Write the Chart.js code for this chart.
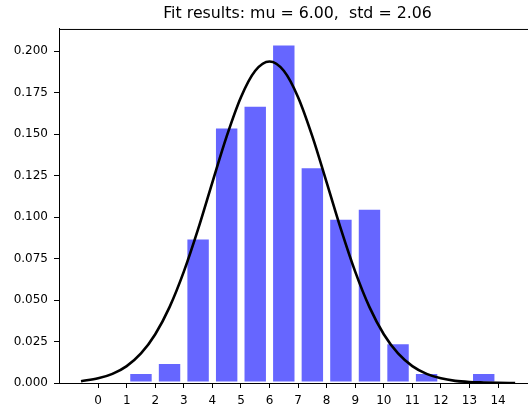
<!DOCTYPE html>
<html>
<head>
<meta charset="utf-8">
<script src="https://cdn.jsdelivr.net/npm/chart.js@4/dist/chart.umd.min.js"></script>
<style>
  html, body { margin: 0; padding: 0; background: #fff; overflow: hidden; }
  #wrap { width: 545px; height: 412px; }
</style>
</head>
<body>
<div id="wrap"><canvas id="myChart" width="545" height="412"></canvas></div>
<script>
// histogram bins (left edges) and their density
let binStarts = [0, 1, 2, 3, 4, 5, 6, 7, 8, 9, 10, 11, 12, 13];
let density = [0, 0.006, 0.012, 0.087, 0.154, 0.167, 0.204, 0.130, 0.099, 0.105, 0.024, 0.006, 0, 0.006];

// fitted normal curve
let curveX = [-0.6, 0, 0.5, 1, 1.5, 2, 2.5, 3, 3.5, 4, 4.5, 5, 5.5, 6, 6.5, 7, 7.5, 8, 8.5, 9, 9.5, 10, 10.5, 11, 11.5, 12, 12.5, 13, 13.5, 14, 14.6];
let curveY = [0.0011, 0.0028, 0.0055, 0.0102, 0.0178, 0.0294, 0.0457, 0.0671, 0.0927, 0.1209, 0.1486, 0.1722, 0.1881, 0.1937, 0.1881, 0.1722, 0.1486, 0.1209, 0.0927, 0.0671, 0.0457, 0.0294, 0.0178, 0.0102, 0.0055, 0.0028, 0.0013, 0.0006, 0.0003, 0.0001, 0.0000];

// tick labels
let xTicks = [0, 1, 2, 3, 4, 5, 6, 7, 8, 9, 10, 11, 12, 13, 14];
let yTicks = [0, 0.025, 0.05, 0.075, 0.1, 0.125, 0.15, 0.175, 0.2];

let titleText = 'Fit results: mu = 6.00,  std = 2.06';

// build the point lists for chart.js
let barData = [];
for (let i = 0; i < binStarts.length; i++) {
  barData.push({ x: binStarts[i] + 0.5, y: density[i] });
}
let lineData = [];
for (let i = 0; i < curveX.length; i++) {
  lineData.push({ x: curveX[i], y: curveY[i] });
}

// draws the box around the plot (top + right spines)
const frame = {
  id: 'frame',
  afterDatasetsDraw(chart) {
    const a = chart.chartArea;
    const ctx = chart.ctx;
    ctx.save();
    ctx.strokeStyle = '#000';
    ctx.lineWidth = 1;
    ctx.strokeRect(a.left + 0.5, a.top + 0.5, a.right - a.left, a.bottom - a.top);
    ctx.restore();
  }
};

Chart.defaults.font.family = '"DejaVu Sans", sans-serif';
Chart.defaults.color = '#000';

const myChart = new Chart(document.getElementById('myChart'), {
  type: 'bar',
  data: {
    datasets: [{
      type: 'line',
      data: lineData,
      borderColor: '#000',
      borderWidth: 2.6,
      pointRadius: 0,
      fill: false,
      cubicInterpolationMode: 'monotone',
      order: 0
    }, {
      type: 'bar',
      data: barData,
      backgroundColor: '#6666ff',
      borderColor: 'rgba(255,255,255,0.55)',
      borderWidth: 1,
      borderSkipped: false,
      barPercentage: 0.82,
      categoryPercentage: 1,
      order: 1
    }]
  },
  options: {
    responsive: false,
    animation: false,
    layout: { padding: { left: 13, right: 9, top: 0, bottom: 0 } },
    plugins: {
      legend: { display: false },
      tooltip: { enabled: false },
      title: {
        display: true,
        text: titleText,
        fullSize: false,
        font: { size: 15.8, weight: 'normal' },
        padding: { top: 4, bottom: 6 }
      }
    },
    scales: {
      x: {
        type: 'linear',
        offset: false,
        min: -1.37,
        max: 15.33,
        afterBuildTicks: (axis) => { axis.ticks = xTicks.map(v => ({ value: v })); },
        afterFit: (axis) => { axis.height = 29; },
        grid: { offset: false, drawOnChartArea: false, drawTicks: true, tickLength: 5, color: '#000' },
        border: { display: true, color: '#000', width: 1 },
        ticks: { font: { size: 12 }, padding: 6, maxRotation: 0, autoSkip: false }
      },
      y: {
        min: 0,
        max: 0.2133,
        afterBuildTicks: (axis) => { axis.ticks = yTicks.map(v => ({ value: v })); },
        afterFit: (axis) => { axis.width = 46; },
        grid: { drawOnChartArea: false, drawTicks: true, tickLength: 5, color: '#000' },
        border: { display: true, color: '#000', width: 1 },
        ticks: {
          font: { size: 12 },
          padding: 6,
          callback: (v) => v.toFixed(3)
        }
      }
    }
  },
  plugins: [frame]
});
</script>
</body>
</html>
